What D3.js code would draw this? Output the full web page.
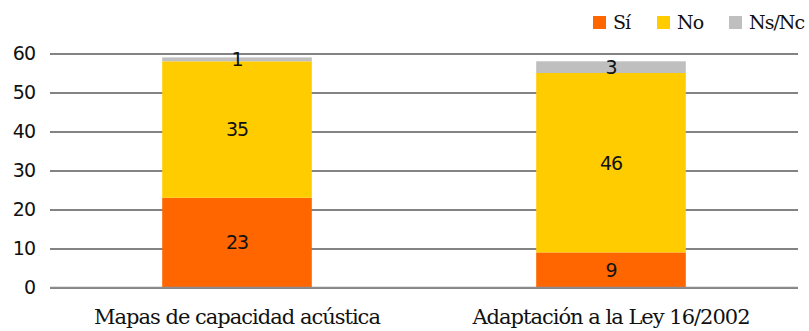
<!DOCTYPE html>
<html>
<head>
<meta charset="utf-8">
<script src="https://cdn.jsdelivr.net/npm/d3@7"></script>
<style>
  html, body { margin: 0; padding: 0; background: #fff; }
  svg { display: block; }
</style>
</head>
<body>
<svg id="chart" width="809" height="331"></svg>
<script>
// Survey responses per item, stacked by answer
const categories = ["Mapas de capacidad acústica", "Adaptación a la Ley 16/2002"];
const seriesNames = ["Sí", "No", "Ns/Nc"];
const siValues = [23, 9];
const noValues = [35, 46];
const nsncValues = [1, 3];
const yTicks = [0, 10, 20, 30, 40, 50, 60];
const colors = ["#ff6600", "#ffcc00", "#bfbfbf"];

const svg = d3.select("#chart");
const margin = { left: 50, right: 11, top: 53.5, bottom: 43.5 };
const W = 809, H = 331;

const x = d3.scaleBand().domain(categories).range([margin.left, W - margin.right]).padding(0);
const y = d3.scaleLinear().domain([0, 60]).range([H - margin.bottom, margin.top]);

const rows = categories.map((c, i) => ({ cat: c, "Sí": siValues[i], "No": noValues[i], "Ns/Nc": nsncValues[i] }));
const stacked = d3.stack().keys(seriesNames)(rows);

const numFont = "'DejaVu Sans', Verdana, sans-serif";
const textFont = "'DejaVu Serif', 'Liberation Serif', serif";

// Gridlines
const yAxis = d3.axisLeft(y).tickValues(yTicks).tickSize(-(W - margin.left - margin.right)).tickPadding(15);
const gy = svg.append("g").attr("transform", `translate(${margin.left},0)`).call(yAxis);
gy.select(".domain").remove();
gy.selectAll(".tick line").attr("stroke", "#5a5a5a").attr("stroke-width", 1.3);
gy.selectAll(".tick text").attr("fill", "#111").style("font-family", numFont).style("font-size", "19px").style("letter-spacing", "-1px");

// Bars
const barW = x.bandwidth() * 0.4;
stacked.forEach((layer, li) => {
  svg.append("g").selectAll("rect").data(layer).join("rect")
    .attr("x", d => x(d.data.cat) + (x.bandwidth() - barW) / 2)
    .attr("width", barW)
    .attr("y", d => y(d[1]))
    .attr("height", d => y(d[0]) - y(d[1]))
    .attr("fill", colors[li]);
});

// Baseline
svg.append("line")
  .attr("x1", margin.left).attr("x2", W - margin.right)
  .attr("y1", y(0)).attr("y2", y(0))
  .attr("stroke", "#8c8c8c").attr("stroke-width", 1.3);

// Value labels
stacked.forEach((layer) => {
  svg.append("g").selectAll("text").data(layer).join("text")
    .attr("x", d => x(d.data.cat) + x.bandwidth() / 2)
    .attr("y", d => (y(d[0]) + y(d[1])) / 2)
    .attr("dy", "0.36em")
    .attr("text-anchor", "middle")
    .attr("fill", "#111")
    .style("font-family", numFont).style("font-size", "19px").style("letter-spacing", "-1px")
    .text(d => d[1] - d[0]);
});

// Category labels
svg.append("g").selectAll("text").data(categories).join("text")
  .attr("x", d => x(d) + x.bandwidth() / 2)
  .attr("y", 324)
  .attr("text-anchor", "middle")
  .attr("fill", "#111")
  .style("font-family", textFont).style("font-size", "21px").style("letter-spacing", "-1px")
  .text(d => d);

// Legend
const legendX = [593, 657, 729];
const lg = svg.append("g");
seriesNames.forEach((s, i) => {
  lg.append("rect").attr("x", legendX[i]).attr("y", 16).attr("width", 13).attr("height", 13).attr("fill", colors[i]);
  lg.append("text").attr("x", legendX[i] + 20).attr("y", 29)
    .attr("fill", "#111")
    .style("font-family", textFont).style("font-size", "19px").style("letter-spacing", "-1px")
    .text(s);
});
</script>
</body>
</html>
